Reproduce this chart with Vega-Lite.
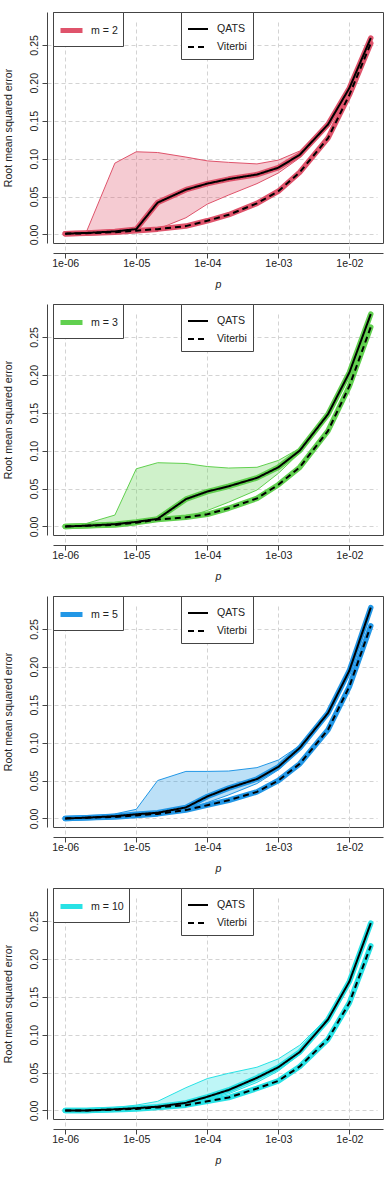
{
  "$schema": "https://vega.github.io/schema/vega-lite/v6.json",
  "background": "white",
  "padding": {"left": 2, "top": 11, "right": 0, "bottom": 0},
  "autosize": {"type": "pad"},
  "spacing": 12,
  "config": {
    "font": "Liberation Sans",
    "view": {"stroke": "#444", "strokeWidth": 1},
    "axis": {
      "domainColor": "#444", "tickColor": "#444", "labelColor": "#222", "titleColor": "#222",
      "labelFontSize": 10.6, "titleFontSize": 10.6, "titleFontWeight": "normal",
      "tickSize": 5, "gridColor": "#d3d3d3", "gridDash": [4, 3], "gridWidth": 1, "grid": true
    },
    "axisX": {"offset": 10, "labelPadding": 0, "titlePadding": 11, "titleFontStyle": "italic"},
    "axisY": {"offset": 6, "labelPadding": 3, "titlePadding": 16, "labelAngle": -90},
    "legend": {
      "title": null, "orient": "none", "strokeColor": "#444", "fillColor": "white",
      "labelFontSize": 10.6, "labelColor": "#222", "symbolType": "stroke"
    }
  },
  "data": {"values": [
    {"m": "m = 2", "p": 1e-6, "QATS": 0.001, "Viterbi": 0.001, "lo": 0.001, "hi": 0.001},
    {"m": "m = 2", "p": 2e-6, "QATS": 0.002, "Viterbi": 0.0015, "lo": 0.0015, "hi": 0.004},
    {"m": "m = 2", "p": 5e-6, "QATS": 0.004, "Viterbi": 0.003, "lo": 0.003, "hi": 0.094},
    {"m": "m = 2", "p": 1e-5, "QATS": 0.007, "Viterbi": 0.005, "lo": 0.005, "hi": 0.109},
    {"m": "m = 2", "p": 2e-5, "QATS": 0.042, "Viterbi": 0.007, "lo": 0.007, "hi": 0.108},
    {"m": "m = 2", "p": 5e-5, "QATS": 0.059, "Viterbi": 0.011, "lo": 0.022, "hi": 0.102},
    {"m": "m = 2", "p": 1e-4, "QATS": 0.067, "Viterbi": 0.018, "lo": 0.040, "hi": 0.097},
    {"m": "m = 2", "p": 2e-4, "QATS": 0.073, "Viterbi": 0.026, "lo": 0.052, "hi": 0.095},
    {"m": "m = 2", "p": 5e-4, "QATS": 0.079, "Viterbi": 0.041, "lo": 0.067, "hi": 0.093},
    {"m": "m = 2", "p": 1e-3, "QATS": 0.088, "Viterbi": 0.057, "lo": 0.081, "hi": 0.098},
    {"m": "m = 2", "p": 2e-3, "QATS": 0.105, "Viterbi": 0.082, "lo": 0.101, "hi": 0.110},
    {"m": "m = 2", "p": 5e-3, "QATS": 0.145, "Viterbi": 0.127, "lo": 0.143, "hi": 0.147},
    {"m": "m = 2", "p": 1e-2, "QATS": 0.193, "Viterbi": 0.184, "lo": 0.191, "hi": 0.195},
    {"m": "m = 2", "p": 2e-2, "QATS": 0.259, "Viterbi": 0.252, "lo": 0.250, "hi": 0.261},
    {"m": "m = 3", "p": 1e-6, "QATS": 0.000, "Viterbi": 0.000, "lo": 0.000, "hi": 0.000},
    {"m": "m = 3", "p": 2e-6, "QATS": 0.001, "Viterbi": 0.001, "lo": 0.001, "hi": 0.004},
    {"m": "m = 3", "p": 5e-6, "QATS": 0.003, "Viterbi": 0.002, "lo": 0.002, "hi": 0.015},
    {"m": "m = 3", "p": 1e-5, "QATS": 0.006, "Viterbi": 0.005, "lo": 0.005, "hi": 0.076},
    {"m": "m = 3", "p": 2e-5, "QATS": 0.010, "Viterbi": 0.009, "lo": 0.008, "hi": 0.084},
    {"m": "m = 3", "p": 5e-5, "QATS": 0.036, "Viterbi": 0.012, "lo": 0.012, "hi": 0.083},
    {"m": "m = 3", "p": 1e-4, "QATS": 0.046, "Viterbi": 0.016, "lo": 0.021, "hi": 0.079},
    {"m": "m = 3", "p": 2e-4, "QATS": 0.053, "Viterbi": 0.024, "lo": 0.032, "hi": 0.077},
    {"m": "m = 3", "p": 5e-4, "QATS": 0.064, "Viterbi": 0.037, "lo": 0.048, "hi": 0.078},
    {"m": "m = 3", "p": 1e-3, "QATS": 0.078, "Viterbi": 0.055, "lo": 0.070, "hi": 0.087},
    {"m": "m = 3", "p": 2e-3, "QATS": 0.100, "Viterbi": 0.078, "lo": 0.097, "hi": 0.103},
    {"m": "m = 3", "p": 5e-3, "QATS": 0.148, "Viterbi": 0.126, "lo": 0.146, "hi": 0.150},
    {"m": "m = 3", "p": 1e-2, "QATS": 0.203, "Viterbi": 0.185, "lo": 0.201, "hi": 0.205},
    {"m": "m = 3", "p": 2e-2, "QATS": 0.280, "Viterbi": 0.263, "lo": 0.277, "hi": 0.282},
    {"m": "m = 5", "p": 1e-6, "QATS": 0.000, "Viterbi": 0.000, "lo": 0.000, "hi": 0.000},
    {"m": "m = 5", "p": 2e-6, "QATS": 0.001, "Viterbi": 0.001, "lo": 0.001, "hi": 0.002},
    {"m": "m = 5", "p": 5e-6, "QATS": 0.003, "Viterbi": 0.002, "lo": 0.002, "hi": 0.006},
    {"m": "m = 5", "p": 1e-5, "QATS": 0.0055, "Viterbi": 0.004, "lo": 0.004, "hi": 0.012},
    {"m": "m = 5", "p": 2e-5, "QATS": 0.0075, "Viterbi": 0.006, "lo": 0.006, "hi": 0.050},
    {"m": "m = 5", "p": 5e-5, "QATS": 0.0145, "Viterbi": 0.011, "lo": 0.011, "hi": 0.062},
    {"m": "m = 5", "p": 1e-4, "QATS": 0.029, "Viterbi": 0.0175, "lo": 0.021, "hi": 0.062},
    {"m": "m = 5", "p": 2e-4, "QATS": 0.040, "Viterbi": 0.024, "lo": 0.031, "hi": 0.0625},
    {"m": "m = 5", "p": 5e-4, "QATS": 0.052, "Viterbi": 0.035, "lo": 0.046, "hi": 0.067},
    {"m": "m = 5", "p": 1e-3, "QATS": 0.068, "Viterbi": 0.050, "lo": 0.064, "hi": 0.077},
    {"m": "m = 5", "p": 2e-3, "QATS": 0.093, "Viterbi": 0.072, "lo": 0.090, "hi": 0.096},
    {"m": "m = 5", "p": 5e-3, "QATS": 0.139, "Viterbi": 0.117, "lo": 0.137, "hi": 0.141},
    {"m": "m = 5", "p": 1e-2, "QATS": 0.195, "Viterbi": 0.174, "lo": 0.193, "hi": 0.197},
    {"m": "m = 5", "p": 2e-2, "QATS": 0.278, "Viterbi": 0.254, "lo": 0.275, "hi": 0.280},
    {"m": "m = 10", "p": 1e-6, "QATS": 0.000, "Viterbi": 0.000, "lo": 0.000, "hi": 0.001},
    {"m": "m = 10", "p": 2e-6, "QATS": 0.000, "Viterbi": 0.000, "lo": 0.000, "hi": 0.002},
    {"m": "m = 10", "p": 5e-6, "QATS": 0.0015, "Viterbi": 0.001, "lo": 0.001, "hi": 0.004},
    {"m": "m = 10", "p": 1e-5, "QATS": 0.003, "Viterbi": 0.002, "lo": 0.002, "hi": 0.007},
    {"m": "m = 10", "p": 2e-5, "QATS": 0.005, "Viterbi": 0.004, "lo": 0.004, "hi": 0.012},
    {"m": "m = 10", "p": 5e-5, "QATS": 0.010, "Viterbi": 0.007, "lo": 0.008, "hi": 0.030},
    {"m": "m = 10", "p": 1e-4, "QATS": 0.018, "Viterbi": 0.012, "lo": 0.015, "hi": 0.042},
    {"m": "m = 10", "p": 2e-4, "QATS": 0.027, "Viterbi": 0.017, "lo": 0.022, "hi": 0.049},
    {"m": "m = 10", "p": 5e-4, "QATS": 0.043, "Viterbi": 0.029, "lo": 0.037, "hi": 0.057},
    {"m": "m = 10", "p": 1e-3, "QATS": 0.057, "Viterbi": 0.039, "lo": 0.052, "hi": 0.068},
    {"m": "m = 10", "p": 2e-3, "QATS": 0.077, "Viterbi": 0.058, "lo": 0.074, "hi": 0.086},
    {"m": "m = 10", "p": 5e-3, "QATS": 0.120, "Viterbi": 0.094, "lo": 0.118, "hi": 0.123},
    {"m": "m = 10", "p": 1e-2, "QATS": 0.170, "Viterbi": 0.142, "lo": 0.168, "hi": 0.172},
    {"m": "m = 10", "p": 2e-2, "QATS": 0.247, "Viterbi": 0.217, "lo": 0.245, "hi": 0.249}
  ]},
  "resolve": {"scale": {"stroke": "independent"}, "legend": {"stroke": "independent", "strokeDash": "independent"}},
  "vconcat": [
    {
      "width": 330, "height": 231,
      "transform": [{"filter": "datum.m == 'm = 2'"}],
      "encoding": {"x": {"field": "p", "type": "quantitative", "scale": {"type": "log", "domain": [6.73e-7, 0.02972], "nice": false}, "axis": {"values": [1e-6, 1e-5, 1e-4, 1e-3, 1e-2], "labelExpr": "replace(format(datum.value, '.0e'), 'e-', 'e-0')", "title": "p"}}},
      "layer": [
        {"mark": {"type": "area", "fill": "#DF536B", "fillOpacity": 0.3, "stroke": "#DF536B", "strokeWidth": 1},
         "encoding": {"y": {"field": "lo", "type": "quantitative", "scale": {"domain": [-0.01128, 0.29328], "nice": false, "zero": false}, "axis": {"values": [0, 0.05, 0.1, 0.15, 0.2, 0.25], "format": ".2f", "title": "Root mean squared error"}}, "y2": {"field": "hi"}}},
        {"transform": [{"fold": ["QATS", "Viterbi"], "as": ["method", "rmse"]}],
         "mark": {"type": "line", "strokeWidth": 5.5, "strokeCap": "round", "strokeJoin": "round"},
         "encoding": {"y": {"field": "rmse", "type": "quantitative", "scale": {"domain": [-0.01128, 0.29328], "nice": false, "zero": false}, "axis": {"values": [0, 0.05, 0.1, 0.15, 0.2, 0.25], "format": ".2f", "title": "Root mean squared error"}}, "detail": {"field": "method"},
           "stroke": {"field": "m", "type": "nominal", "scale": {"range": ["#DF536B"]}, "legend": {"legendX": 0, "legendY": 0, "symbolStrokeWidth": 5, "symbolSize": 484, "padding": 5, "labelOffset": 6}}}},
        {"transform": [{"fold": ["QATS", "Viterbi"], "as": ["method", "rmse"]}],
         "mark": {"type": "line", "stroke": "black", "strokeWidth": 2},
         "encoding": {"y": {"field": "rmse", "type": "quantitative", "scale": {"domain": [-0.01128, 0.29328], "nice": false, "zero": false}, "axis": {"values": [0, 0.05, 0.1, 0.15, 0.2, 0.25], "format": ".2f", "title": "Root mean squared error"}},
           "strokeDash": {"field": "method", "type": "nominal", "scale": {"domain": ["QATS", "Viterbi"], "range": [[1, 0], [6, 4]]}, "legend": {"legendX": 128, "legendY": 0, "symbolStrokeColor": "black", "symbolStrokeWidth": 2, "symbolSize": 400, "padding": 6, "labelOffset": 8, "rowPadding": 1}}}}
      ]
    },
    {
      "width": 330, "height": 231,
      "transform": [{"filter": "datum.m == 'm = 3'"}],
      "encoding": {"x": {"field": "p", "type": "quantitative", "scale": {"type": "log", "domain": [6.73e-7, 0.02972], "nice": false}, "axis": {"values": [1e-6, 1e-5, 1e-4, 1e-3, 1e-2], "labelExpr": "replace(format(datum.value, '.0e'), 'e-', 'e-0')", "title": "p"}}},
      "layer": [
        {"mark": {"type": "area", "fill": "#61D04F", "fillOpacity": 0.3, "stroke": "#61D04F", "strokeWidth": 1},
         "encoding": {"y": {"field": "lo", "type": "quantitative", "scale": {"domain": [-0.01128, 0.29328], "nice": false, "zero": false}, "axis": {"values": [0, 0.05, 0.1, 0.15, 0.2, 0.25], "format": ".2f", "title": "Root mean squared error"}}, "y2": {"field": "hi"}}},
        {"transform": [{"fold": ["QATS", "Viterbi"], "as": ["method", "rmse"]}],
         "mark": {"type": "line", "strokeWidth": 5.5, "strokeCap": "round", "strokeJoin": "round"},
         "encoding": {"y": {"field": "rmse", "type": "quantitative", "scale": {"domain": [-0.01128, 0.29328], "nice": false, "zero": false}, "axis": {"values": [0, 0.05, 0.1, 0.15, 0.2, 0.25], "format": ".2f", "title": "Root mean squared error"}}, "detail": {"field": "method"},
           "stroke": {"field": "m", "type": "nominal", "scale": {"range": ["#61D04F"]}, "legend": {"legendX": 0, "legendY": 0, "symbolStrokeWidth": 5, "symbolSize": 484, "padding": 5, "labelOffset": 6}}}},
        {"transform": [{"fold": ["QATS", "Viterbi"], "as": ["method", "rmse"]}],
         "mark": {"type": "line", "stroke": "black", "strokeWidth": 2},
         "encoding": {"y": {"field": "rmse", "type": "quantitative", "scale": {"domain": [-0.01128, 0.29328], "nice": false, "zero": false}, "axis": {"values": [0, 0.05, 0.1, 0.15, 0.2, 0.25], "format": ".2f", "title": "Root mean squared error"}},
           "strokeDash": {"field": "method", "type": "nominal", "scale": {"domain": ["QATS", "Viterbi"], "range": [[1, 0], [6, 4]]}, "legend": {"legendX": 128, "legendY": 0, "symbolStrokeColor": "black", "symbolStrokeWidth": 2, "symbolSize": 400, "padding": 6, "labelOffset": 8, "rowPadding": 1}}}}
      ]
    },
    {
      "width": 330, "height": 231,
      "transform": [{"filter": "datum.m == 'm = 5'"}],
      "encoding": {"x": {"field": "p", "type": "quantitative", "scale": {"type": "log", "domain": [6.73e-7, 0.02972], "nice": false}, "axis": {"values": [1e-6, 1e-5, 1e-4, 1e-3, 1e-2], "labelExpr": "replace(format(datum.value, '.0e'), 'e-', 'e-0')", "title": "p"}}},
      "layer": [
        {"mark": {"type": "area", "fill": "#2297E6", "fillOpacity": 0.3, "stroke": "#2297E6", "strokeWidth": 1},
         "encoding": {"y": {"field": "lo", "type": "quantitative", "scale": {"domain": [-0.01128, 0.29328], "nice": false, "zero": false}, "axis": {"values": [0, 0.05, 0.1, 0.15, 0.2, 0.25], "format": ".2f", "title": "Root mean squared error"}}, "y2": {"field": "hi"}}},
        {"transform": [{"fold": ["QATS", "Viterbi"], "as": ["method", "rmse"]}],
         "mark": {"type": "line", "strokeWidth": 5.5, "strokeCap": "round", "strokeJoin": "round"},
         "encoding": {"y": {"field": "rmse", "type": "quantitative", "scale": {"domain": [-0.01128, 0.29328], "nice": false, "zero": false}, "axis": {"values": [0, 0.05, 0.1, 0.15, 0.2, 0.25], "format": ".2f", "title": "Root mean squared error"}}, "detail": {"field": "method"},
           "stroke": {"field": "m", "type": "nominal", "scale": {"range": ["#2297E6"]}, "legend": {"legendX": 0, "legendY": 0, "symbolStrokeWidth": 5, "symbolSize": 484, "padding": 5, "labelOffset": 6}}}},
        {"transform": [{"fold": ["QATS", "Viterbi"], "as": ["method", "rmse"]}],
         "mark": {"type": "line", "stroke": "black", "strokeWidth": 2},
         "encoding": {"y": {"field": "rmse", "type": "quantitative", "scale": {"domain": [-0.01128, 0.29328], "nice": false, "zero": false}, "axis": {"values": [0, 0.05, 0.1, 0.15, 0.2, 0.25], "format": ".2f", "title": "Root mean squared error"}},
           "strokeDash": {"field": "method", "type": "nominal", "scale": {"domain": ["QATS", "Viterbi"], "range": [[1, 0], [6, 4]]}, "legend": {"legendX": 128, "legendY": 0, "symbolStrokeColor": "black", "symbolStrokeWidth": 2, "symbolSize": 400, "padding": 6, "labelOffset": 8, "rowPadding": 1}}}}
      ]
    },
    {
      "width": 330, "height": 231,
      "transform": [{"filter": "datum.m == 'm = 10'"}],
      "encoding": {"x": {"field": "p", "type": "quantitative", "scale": {"type": "log", "domain": [6.73e-7, 0.02972], "nice": false}, "axis": {"values": [1e-6, 1e-5, 1e-4, 1e-3, 1e-2], "labelExpr": "replace(format(datum.value, '.0e'), 'e-', 'e-0')", "title": "p"}}},
      "layer": [
        {"mark": {"type": "area", "fill": "#28E2E5", "fillOpacity": 0.3, "stroke": "#28E2E5", "strokeWidth": 1},
         "encoding": {"y": {"field": "lo", "type": "quantitative", "scale": {"domain": [-0.01128, 0.29328], "nice": false, "zero": false}, "axis": {"values": [0, 0.05, 0.1, 0.15, 0.2, 0.25], "format": ".2f", "title": "Root mean squared error"}}, "y2": {"field": "hi"}}},
        {"transform": [{"fold": ["QATS", "Viterbi"], "as": ["method", "rmse"]}],
         "mark": {"type": "line", "strokeWidth": 5.5, "strokeCap": "round", "strokeJoin": "round"},
         "encoding": {"y": {"field": "rmse", "type": "quantitative", "scale": {"domain": [-0.01128, 0.29328], "nice": false, "zero": false}, "axis": {"values": [0, 0.05, 0.1, 0.15, 0.2, 0.25], "format": ".2f", "title": "Root mean squared error"}}, "detail": {"field": "method"},
           "stroke": {"field": "m", "type": "nominal", "scale": {"range": ["#28E2E5"]}, "legend": {"legendX": 0, "legendY": 0, "symbolStrokeWidth": 5, "symbolSize": 484, "padding": 5, "labelOffset": 6}}}},
        {"transform": [{"fold": ["QATS", "Viterbi"], "as": ["method", "rmse"]}],
         "mark": {"type": "line", "stroke": "black", "strokeWidth": 2},
         "encoding": {"y": {"field": "rmse", "type": "quantitative", "scale": {"domain": [-0.01128, 0.29328], "nice": false, "zero": false}, "axis": {"values": [0, 0.05, 0.1, 0.15, 0.2, 0.25], "format": ".2f", "title": "Root mean squared error"}},
           "strokeDash": {"field": "method", "type": "nominal", "scale": {"domain": ["QATS", "Viterbi"], "range": [[1, 0], [6, 4]]}, "legend": {"legendX": 128, "legendY": 0, "symbolStrokeColor": "black", "symbolStrokeWidth": 2, "symbolSize": 400, "padding": 6, "labelOffset": 8, "rowPadding": 1}}}}
      ]
    }
  ]
}
